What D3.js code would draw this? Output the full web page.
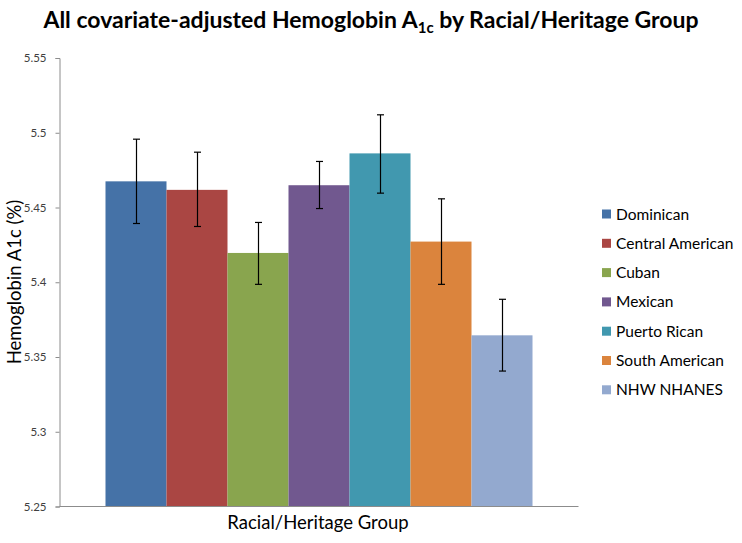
<!DOCTYPE html>
<html>
<head>
<meta charset="utf-8">
<script src="https://cdn.jsdelivr.net/npm/d3@7"></script>
<style>
  html, body { margin: 0; padding: 0; background: #fff; }
  svg { display: block; }
</style>
</head>
<body>
<svg id="chart" width="742" height="543"></svg>
<script>
const categories = ["Dominican", "Central American", "Cuban", "Mexican", "Puerto Rican", "South American", "NHW NHANES"];
const values     = [5.4675, 5.4618, 5.4196, 5.4649, 5.4862, 5.4272, 5.3645];
const errUpper   = [5.4957, 5.4870, 5.4400, 5.4808, 5.5120, 5.4558, 5.3886];
const errLower   = [5.4393, 5.4373, 5.3986, 5.4493, 5.4596, 5.3986, 5.3406];
const colors     = ["#4572A7", "#AA4643", "#89A54E", "#71588F", "#4198AF", "#DB843D", "#93A9CF"];
const yTicks     = [5.25, 5.3, 5.35, 5.4, 5.45, 5.5, 5.55];

const svg = d3.select("#chart");
const font = "Lato, 'Open Sans', sans-serif";

const x = d3.scaleBand().domain(categories).range([59.5, 578.5]).paddingInner(0).paddingOuter(0.754);
const y = d3.scaleLinear().domain([5.25, 5.55]).range([506.5, 58]);

// Title
const title = svg.append("text")
  .attr("x", 371).attr("y", 28)
  .attr("text-anchor", "middle")
  .attr("font-family", font)
  .attr("font-weight", "bold")
  .attr("font-size", 23)
  .attr("fill", "#000");
title.append("tspan").text("All covariate-adjusted Hemoglobin A");
title.append("tspan").attr("font-size", 15).attr("dy", 5).text("1c");
title.append("tspan").attr("dy", -5).text(" by Racial/Heritage Group");

// Bars
svg.append("g").selectAll("rect")
  .data(categories)
  .join("rect")
  .attr("x", d => x(d))
  .attr("width", x.bandwidth())
  .attr("y", (d, i) => y(values[i]))
  .attr("height", (d, i) => y(5.25) - y(values[i]))
  .attr("fill", (d, i) => colors[i]);

// Error bars
const eg = svg.append("g").attr("stroke", "#000").attr("stroke-width", 1.2);
categories.forEach((c, i) => {
  const cx = Math.round(x(c) + x.bandwidth() / 2) + 0.5;
  eg.append("line").attr("x1", cx).attr("x2", cx).attr("y1", y(errUpper[i])).attr("y2", y(errLower[i]));
  eg.append("line").attr("x1", cx - 3.5).attr("x2", cx + 3.5).attr("y1", y(errUpper[i])).attr("y2", y(errUpper[i]));
  eg.append("line").attr("x1", cx - 3.5).attr("x2", cx + 3.5).attr("y1", y(errLower[i])).attr("y2", y(errLower[i]));
});

// Y axis
const yAxis = svg.append("g")
  .attr("transform", "translate(59.5,0)")
  .call(d3.axisLeft(y).tickValues(yTicks).tickSize(4).tickPadding(9).tickFormat(d => String(+d.toFixed(2))));
yAxis.select(".domain").attr("stroke", "#8c8c8c");
yAxis.selectAll(".tick line").attr("stroke", "#8c8c8c");
yAxis.selectAll("text").attr("font-family", font).attr("font-size", 11.5).attr("fill", "#404040");

// X axis baseline
svg.append("line")
  .attr("x1", 59.5).attr("x2", 578.5)
  .attr("y1", y(5.25)).attr("y2", y(5.25))
  .attr("stroke", "#8c8c8c");

// Axis titles
svg.append("text")
  .attr("transform", `translate(21,${(58 + 506) / 2}) rotate(-90)`)
  .attr("text-anchor", "middle")
  .attr("font-family", font)
  .attr("font-size", 18.5)
  .attr("fill", "#000")
  .text("Hemoglobin A1c (%)");

svg.append("text")
  .attr("x", 318).attr("y", 529)
  .attr("text-anchor", "middle")
  .attr("font-family", font)
  .attr("font-size", 18.5)
  .attr("fill", "#000")
  .text("Racial/Heritage Group");

// Legend
const lg = svg.append("g");
categories.forEach((c, i) => {
  const cy = 214 + i * 29.3;
  lg.append("rect").attr("x", 602).attr("y", cy - 4.5).attr("width", 9).attr("height", 9).attr("fill", colors[i]);
  lg.append("text").attr("x", 616).attr("y", cy + 5.5)
    .attr("font-family", font).attr("font-size", 15.5).attr("fill", "#000").text(c);
});
</script>
</body>
</html>
